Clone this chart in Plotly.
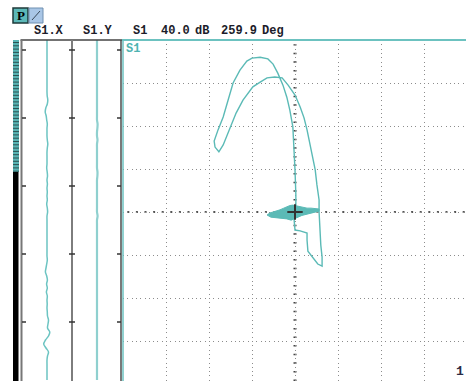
import plotly.graph_objects as go

W, H = 466, 381

# Channel S1 impedance-plane trace, in screen divisions (origin = balance point)
s1_x = [0.02, 0.02, 0.00, -0.02, -0.05, -0.12, -0.19, -0.28, -0.40, -0.51, -0.63, -0.81,
        -1.00, -1.12, -1.28, -1.44, -1.56, -1.67, -1.79, -1.88, -1.86, -1.77, -1.67, -1.51,
        -1.37, -1.21, -0.98, -0.81, -0.65, -0.47, -0.30, -0.16, 0.00, 0.12, 0.21, 0.28,
        0.37, 0.47, 0.51, 0.56, 0.56, 0.58, 0.60, 0.63, 0.63, 0.53, 0.42, 0.30, 0.28,
        0.28, 0.12, 0.00, -0.02, -0.02]
s1_y = [0.00, 0.40, 0.98, 1.44, 1.98, 2.37, 2.67, 2.95, 3.23, 3.44, 3.56, 3.60,
        3.58, 3.51, 3.30, 3.00, 2.60, 2.21, 1.91, 1.65, 1.51, 1.40, 1.56, 1.98,
        2.30, 2.60, 2.91, 3.02, 3.12, 3.14, 3.12, 2.95, 2.72, 2.44, 2.19, 1.91,
        1.44, 0.98, 0.63, 0.28, 0.00, -0.42, -0.77, -1.05, -1.26, -1.21, -1.07, -0.91, -0.65,
        -0.49, -0.44, -0.42, -0.19, -0.02]

# Noise cluster around the balance point
cluster_x = [-0.65, -0.58, -0.51, -0.42, -0.35, -0.26, -0.19, -0.12, -0.05, 0.05, 0.12,
             0.21, 0.28, 0.37, 0.47, 0.56, 0.56, 0.47, 0.35, 0.26, 0.16, 0.07, -0.02,
             -0.09, -0.19, -0.28, -0.37, -0.47, -0.56, -0.65]
cluster_y = [-0.07, -0.02, 0.00, 0.02, 0.05, 0.09, 0.12, 0.15, 0.16, 0.14, 0.12,
             0.10, 0.09, 0.09, 0.08, 0.07, 0.02, 0.00, -0.02, -0.05, -0.08, -0.12, -0.17,
             -0.19, -0.16, -0.15, -0.14, -0.13, -0.12, -0.07]

# Strip chart samples (one per 4 scan lines), S1 X and Y components
strip_s1x = [0, 0, 0, 0, 0, 0, 0, 0, 0, 0, 0, 0, 0, 0, 0.2, 0.8, 0.3, -1.2, -1.8, -0.8,
             -0.3, 0.3, 0, 0, 0, 0.3, 0.8, 0.3, 0, 0, 0, 0, -0.3, 0.2, 0.5, 0, 0.4, 0, 0.3, 0,
             0.3, -0.3, 0.3, 0.6, 0, 0, 0, 0, 0, 0, 0, 0, 0, 0, 0, 0.3, -0.3, -1.0, -1.6, -0.3,
             0.4, -0.4, 0.3, -0.6, 0.3, 0, 0.2, 0, 0.3, 0.5, 1.5, 1.0, 0.5, 2.8, 1.5, -1.5,
             -3.3, -1.0, 1.5, 0.5, 0, 0, 0, 0, 0, 0]
strip_s1y = [0, 0, 0, 0, 0, 0, 0, 0, 0, 0, 0, 0, 0, 0, 0, 0, 0, 0, 0, 0,
             0, 0.6, 0.4, 0, 0, 0.5, 0, 0, 0, 0, 0, 0, 0, 0.5, 0.4, 0, 0, 0, 0, 0,
             0, 0, 0, 0, 0.6, 0, 0, 0, 0, 0, 0, 0, 0, 0, 0, 0, 0, 0, 0, 0,
             0, 0, 0, 0, 0, 0, 0, 0, 0, 0, 0, 0, 0, 0, 0, 0, 0, 0, 0, 0, 0, 0, 0, 0, 0, 0]
strip_t = list(range(len(strip_s1x)))

header_fields = ["S1.X", "S1.Y", "S1", "40.0", "dB", "259.9", "Deg"]
channel_name = "S1"
page_number = "1"

# ---- screen geometry (pixels) ----
TOP = 40
CX, CY, DIV = 295, 212, 43
MAIN_L = 123
STRIP_L, STRIP_M, STRIP_R = 22, 72, 122
ROW = 4
header_px = [32, 81, 131, 159, 193, 219, 260]

TEAL = "#5bbab6"
TEAL_LIGHT = "#8fd0cf"
GRID = "#8c8c8c"


def px(x):
    return x / W


def py(y):
    return 1 - y / H


fig = go.Figure()

# Strip traces
fig.add_trace(go.Scatter(x=strip_s1x, y=strip_t, mode="lines", xaxis="x2", yaxis="y2",
                         line=dict(color="#6cc4c2", width=1.5, shape="spline"),
                         hoverinfo="skip", showlegend=False))
fig.add_trace(go.Scatter(x=strip_s1y, y=strip_t, mode="lines", xaxis="x3", yaxis="y3",
                         line=dict(color=TEAL_LIGHT, width=2.2, shape="spline"),
                         hoverinfo="skip", showlegend=False))

# Impedance-plane display
fig.add_trace(go.Scatter(x=cluster_x, y=cluster_y, mode="lines", fill="toself",
                         fillcolor=TEAL, line=dict(color=TEAL, width=1),
                         hoverinfo="skip", showlegend=False))
fig.add_trace(go.Scatter(x=s1_x, y=s1_y, mode="lines",
                         line=dict(color=TEAL, width=1.4),
                         hoverinfo="skip", showlegend=False))
fig.add_trace(go.Scatter(x=[0], y=[0], mode="markers",
                         marker=dict(symbol="cross-thin-open", size=11, color="#333333",
                                     line=dict(color="#333333", width=2)),
                         hoverinfo="skip", showlegend=False))

x_lo, x_hi = (MAIN_L - CX) / DIV, (W - CX) / DIV
y_lo, y_hi = (CY - H) / DIV, (CY - TOP) / DIV
n_rows = (H - TOP) / ROW

shapes = []
# Left buffer indicator: striped teal part and black part
shapes.append(dict(type="rect", xref="paper", yref="paper", x0=px(13), x1=px(19),
                   y0=py(172), y1=py(TOP), fillcolor="#58b4b4", line=dict(width=0)))
k = 0
while TOP + 2.5 + k * 3.3 < 172:
    yy = TOP + 2.5 + k * 3.3
    shapes.append(dict(type="line", xref="paper", yref="paper", x0=px(13), x1=px(19),
                       y0=py(yy), y1=py(yy), line=dict(color="#2c5252", width=1)))
    k += 1
shapes.append(dict(type="rect", xref="paper", yref="paper", x0=px(13), x1=px(18.5),
                   y0=0, y1=py(172), fillcolor="#000000", line=dict(width=0)))

# Strip frame
shapes.append(dict(type="line", xref="paper", yref="paper", x0=px(20.5), x1=px(STRIP_R),
                   y0=py(TOP), y1=py(TOP), line=dict(color="#444444", width=1.5)))
for xx, col, wd in [(21.5, "#777777", 2), (STRIP_M, "#7d7d7d", 2), (121, "#4d4d4d", 1.5)]:
    shapes.append(dict(type="line", xref="paper", yref="paper", x0=px(xx), x1=px(xx),
                       y0=0, y1=py(TOP), line=dict(color=col, width=wd)))
for yy in [50, 118, 186, 254, 322]:
    for a, b in [(22, 26), (69, 75), (117, 121)]:
        shapes.append(dict(type="line", xref="paper", yref="paper", x0=px(a), x1=px(b),
                           y0=py(yy), y1=py(yy), line=dict(color="#333333", width=1.5)))

# Main display border
shapes.append(dict(type="line", xref="paper", yref="paper", x0=px(STRIP_R), x1=1,
                   y0=py(TOP), y1=py(TOP), line=dict(color="#6cc2c0", width=2)))
shapes.append(dict(type="line", xref="paper", yref="paper", x0=px(MAIN_L), x1=px(MAIN_L),
                   y0=0, y1=py(TOP), line=dict(color="#6cc2c0", width=1.5)))

# Centre axes of the impedance plane
shapes.append(dict(type="line", xref="x", yref="y", x0=x_lo + 0.1, x1=x_hi, y0=0, y1=0,
                   line=dict(color="#555555", width=2, dash="2px,6.6px"), layer="below"))
shapes.append(dict(type="line", xref="x", yref="y", x0=0, x1=0, y0=y_lo, y1=y_hi - 0.1,
                   line=dict(color="#444444", width=3, dash="1.5px,7.1px"), layer="below"))

annotations = []
for txt, xx in zip(header_fields, header_px):
    annotations.append(dict(text=txt, x=px(xx), y=py(31), xref="paper", yref="paper",
                            xanchor="left", yanchor="middle", showarrow=False,
                            font=dict(family="Liberation Mono", size=12, color="#1c1c2a",
                                      weight="bold")))
annotations.append(dict(text=channel_name, x=px(124), y=py(48.5), xref="paper", yref="paper",
                        xanchor="left", yanchor="middle", showarrow=False,
                        font=dict(family="Liberation Mono", size=12, color="#4fb3b1",
                                  weight="bold")))
annotations.append(dict(text=page_number, x=px(454), y=py(381), xref="paper", yref="paper",
                        xanchor="left", yanchor="bottom", showarrow=False,
                        font=dict(family="Liberation Mono", size=13, color="#2b2b45",
                                  weight="bold")))

# Mode buttons
shapes.append(dict(type="rect", xref="paper", yref="paper", x0=px(13), x1=px(28),
                   y0=py(23), y1=py(8), fillcolor="#5cb8b8", line=dict(color="#1e3a3a", width=1.5)))
shapes.append(dict(type="rect", xref="paper", yref="paper", x0=px(29), x1=px(43),
                   y0=py(23), y1=py(8), fillcolor="#a9c6e6", line=dict(color="#6f8fb0", width=1)))
shapes.append(dict(type="line", xref="paper", yref="paper", x0=px(32), x1=px(40),
                   y0=py(20), y1=py(11), line=dict(color="#3a4a5a", width=1)))
annotations.append(dict(text="P", x=px(20.5), y=py(15.5), xref="paper", yref="paper",
                        xanchor="center", yanchor="middle", showarrow=False,
                        font=dict(family="Liberation Serif", size=13, color="#000000",
                                  weight="bold")))

axis_off = dict(showgrid=False, zeroline=False, showticklabels=False, ticks="",
                showline=False, fixedrange=True)

fig.update_layout(
    width=W, height=H, margin=dict(l=0, r=0, t=0, b=0),
    paper_bgcolor="white", plot_bgcolor="rgba(0,0,0,0)",
    showlegend=False,
    xaxis=dict(domain=[px(MAIN_L), 1], range=[x_lo, x_hi], showgrid=True, dtick=1, tick0=0,
               griddash="1px,3.3px", gridcolor=GRID, gridwidth=1, zeroline=False,
               showticklabels=False, ticks="", showline=False, fixedrange=True),
    yaxis=dict(domain=[0, py(TOP)], range=[y_lo, y_hi], showgrid=True, dtick=1, tick0=0,
               griddash="1px,3.3px", gridcolor=GRID, gridwidth=1, zeroline=False,
               showticklabels=False, ticks="", showline=False, fixedrange=True),
    xaxis2=dict(domain=[px(STRIP_L), px(STRIP_M)], range=[-25, 25], anchor="y2", **axis_off),
    yaxis2=dict(domain=[0, py(TOP)], range=[n_rows, 0], anchor="x2", **axis_off),
    xaxis3=dict(domain=[px(STRIP_M), px(STRIP_R)], range=[-25, 25], anchor="y3", **axis_off),
    yaxis3=dict(domain=[0, py(TOP)], range=[n_rows, 0], anchor="x3", **axis_off),
    shapes=shapes,
    annotations=annotations,
)

fig.write_html("out.html")
